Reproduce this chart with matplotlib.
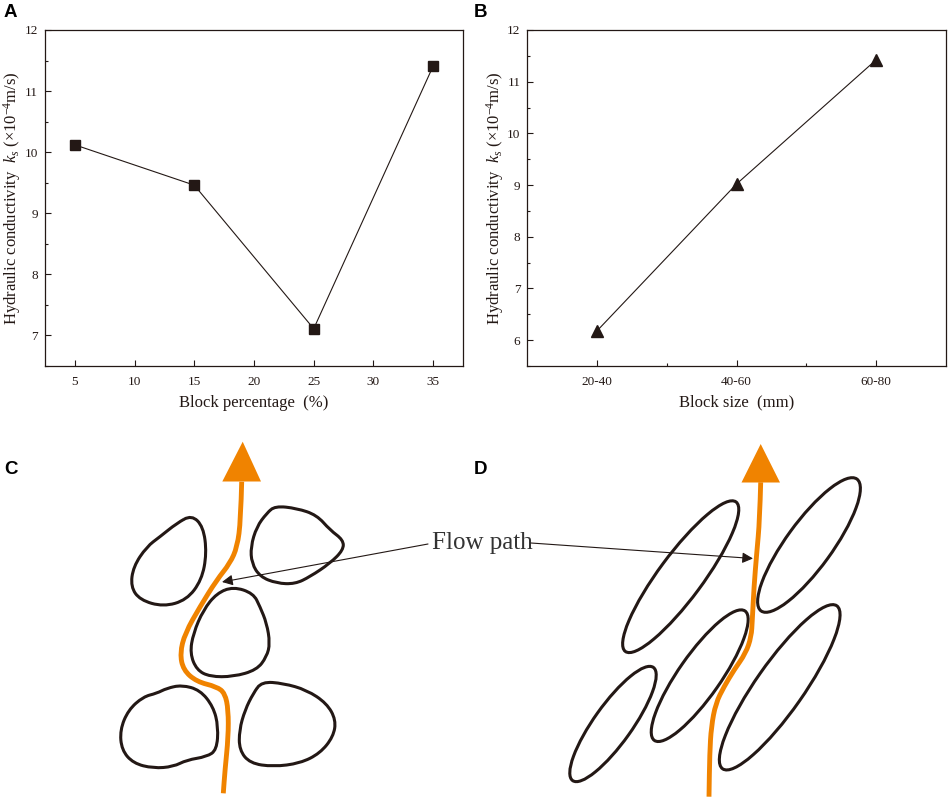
import numpy as np
import matplotlib
matplotlib.use("Agg")
import matplotlib.pyplot as plt
from matplotlib.path import Path
from matplotlib.patches import PathPatch, Ellipse, Polygon

# ---------------- data ----------------
pct_x = [5, 15, 25, 35]
pct_k = [10.12, 9.46, 7.11, 11.41]

size_labels = ["20-40", "40-60", "60-80"]
size_k = [6.18, 9.02, 11.42]

ylabel_txt = "Hydraulic conductivity  $k_s$ (\u00d710$^{-4}$m/s)"
xlabel_a = "Block percentage  (%)"
xlabel_b = "Block size  (mm)"
flow_text = "Flow path"

# ---------------- illustration geometry (pixel units) ----------------
blob1 = [(191.7, 515), (203.3, 526.7), (206.7, 553.3), (201.7, 580), (186.7, 600), (163.3, 606.7),
         (140, 600), (130.7, 586.7), (133.3, 566.7), (146.7, 546.7), (160, 536.7), (176.7, 523.3)]
blob2 = [(275, 506), (296.7, 508.3), (316.7, 515), (330, 530), (343.3, 540), (343.3, 550),
         (330, 563.3), (310, 576.7), (295, 584), (276.7, 583.3), (260, 576.7), (251.7, 563.3),
         (250.7, 546.7), (256.7, 526.7), (266.7, 513.3)]
blob3 = [(233.3, 586.7), (253.3, 593.3), (260, 606.7), (266.7, 623.3), (270, 643.3), (266.7, 656.7),
         (256.7, 670), (233.3, 676.7), (210, 676.7), (196.7, 670), (190, 653.3), (193.3, 633.3),
         (203.3, 610), (216.7, 593.3)]
blob4 = [(181.7, 685), (200, 690), (213.3, 706.7), (218.3, 726.7), (216.7, 750), (206.7, 756.7),
         (186.7, 760), (173.3, 766.7), (153.3, 768.3), (133.3, 763.3), (121.7, 750), (120, 730),
         (128.3, 710), (143.3, 696.7), (156.7, 693.3), (166.7, 688.3)]
blob5 = [(261.7, 681.7), (283.3, 683.3), (306.7, 690), (326.7, 703.3), (336, 720), (333.3, 736.7),
         (320, 753.3), (300, 763.3), (273.3, 766.7), (250, 763.3), (239.3, 750), (239.3, 730),
         (245, 710), (253.3, 693.3)]
blobs_c = [blob1, blob2, blob3, blob4, blob5]

flow_c = [(241.7, 481.7), (240.7, 520), (237.3, 546.7), (230, 563.3), (216.7, 580), (200, 606.7),
          (185, 633.3), (180, 653.3), (183.3, 670), (196.7, 681.7), (216.7, 686.7), (225, 693.3),
          (228.3, 710), (228.3, 736.7), (225, 770), (223.3, 793.3)]
head_c = [(242.7, 441.7), (222.3, 481.5), (261.0, 481.5)]

# ellipses: (cx, cy, major, minor, angle)
ellipses_d = [(680.7, 576.7, 186, 44, -53.5),
              (809.0, 545.0, 163, 46, -54.0),
              (699.7, 675.7, 158, 42, -55.0),
              (613.0, 724.0, 139, 38, -54.5),
              (779.7, 687.3, 199, 48, -55.0)]

flow_d = [(760.7, 482.3), (759.7, 520), (756.7, 553.3), (754, 586.7), (752.3, 620), (751.3, 636.7),
          (745.7, 653.3), (734, 670), (724, 686.7), (715.7, 703.3), (711.3, 726.7), (709.7, 753.3),
          (709, 796.7)]
head_d = [(760.7, 444), (741.5, 482.5), (780.0, 482.5)]

# ---------------- styles ----------------
plt.rcParams['font.family'] = ['Liberation Serif', 'DejaVu Serif']
plt.rcParams['mathtext.fontset'] = 'custom'
plt.rcParams['mathtext.rm'] = 'Liberation Serif'
plt.rcParams['mathtext.it'] = 'Liberation Serif:italic'
DARK = '#231815'
ORANGE = '#F08300'

W, H = 948, 798
fig = plt.figure(figsize=(W / 100, H / 100), dpi=100)


def style_axes(ax):
    for sp in ax.spines.values():
        sp.set_linewidth(0.9)
        sp.set_color(DARK)
    ax.tick_params(axis='both', which='both', direction='in', top=False, right=False,
                   labelsize=9.5, colors=DARK)
    ax.tick_params(axis='both', which='major', length=4.5, width=0.8)
    ax.tick_params(axis='both', which='minor', length=2.5, width=0.8)
    ax.tick_params(axis='x', pad=7)
    ax.tick_params(axis='y', pad=5)


# Panel A
axA = fig.add_axes([45 / W, 1 - 366 / H, 418 / W, 336 / H])
axA.plot(pct_x, pct_k, color=DARK, lw=0.8, marker='s', ms=7, mfc=DARK, mec=DARK)
axA.set_xlim(2.5, 37.5)
axA.set_ylim(6.5, 12)
axA.set_xticks([5, 10, 15, 20, 25, 30, 35])
axA.set_yticks([7, 8, 9, 10, 11, 12])
axA.set_yticks(np.arange(6.5, 12.01, 0.5), minor=True)
style_axes(axA)
axA.set_xlabel(xlabel_a, fontsize=12, color=DARK)
axA.set_ylabel(ylabel_txt, fontsize=12, color=DARK)
axA.xaxis.set_label_coords(0.5, -0.085)
axA.yaxis.set_label_coords(-0.052, 0.5)

# Panel B
axB = fig.add_axes([527.3 / W, 1 - 366 / H, 418.4 / W, 336 / H])
xb = np.arange(len(size_labels))
axB.plot(xb, size_k, color=DARK, lw=0.8, marker='^', ms=8.5, mfc=DARK, mec=DARK)
axB.set_xlim(-0.5, 2.5)
axB.set_ylim(5.5, 12)
axB.set_xticks(xb)
axB.set_xticklabels(size_labels)
axB.set_xticks([0.5, 1.5], minor=True)
axB.set_yticks([6, 7, 8, 9, 10, 11, 12])
axB.set_yticks(np.arange(5.5, 12.01, 0.5), minor=True)
style_axes(axB)
axB.set_xlabel(xlabel_b, fontsize=12, color=DARK)
axB.set_ylabel(ylabel_txt, fontsize=12, color=DARK)
axB.xaxis.set_label_coords(0.5, -0.085)
axB.yaxis.set_label_coords(-0.052, 0.5)

# Overlay for illustrations (1 unit = 1 pixel)
ov = fig.add_axes([0, 0, 1, 1])
ov.set_xlim(0, W)
ov.set_ylim(H, 0)
ov.axis('off')
ov.patch.set_visible(False)


def closed_smooth(points):
    P = np.asarray(points, float)
    n = len(P)
    M = (P + np.roll(P, -1, axis=0)) / 2.0
    verts = [M[-1]]
    codes = [Path.MOVETO]
    for i in range(n):
        verts += [P[i], M[i]]
        codes += [Path.CURVE3, Path.CURVE3]
    return Path(verts, codes)


def open_smooth(points):
    P = np.asarray(points, float)
    verts = [P[0]]
    codes = [Path.MOVETO]
    for i in range(1, len(P) - 1):
        m = (P[i] + P[i + 1]) / 2.0
        verts += [P[i], m]
        codes += [Path.CURVE3, Path.CURVE3]
    verts.append(P[-1])
    codes.append(Path.LINETO)
    return Path(verts, codes)


for b in blobs_c:
    ov.add_patch(PathPatch(closed_smooth(b), fill=False, lw=2.2, ec=DARK, joinstyle='round'))
for (cx, cy, a, b, ang) in ellipses_d:
    ov.add_patch(Ellipse((cx, cy), a, b, angle=ang, fill=False, lw=2.2, ec=DARK))

for fl, hd in [(flow_c, head_c), (flow_d, head_d)]:
    ov.add_patch(PathPatch(open_smooth(fl), fill=False, lw=3.5, ec=ORANGE, capstyle='butt'))
    ov.add_patch(Polygon(hd, closed=True, fc=ORANGE, ec='none'))

# Flow path annotation
ov.text(432, 543, flow_text, fontsize=18, ha='left', va='center', color='#333333')
ov.annotate('', xy=(222, 582), xytext=(428, 544),
            arrowprops=dict(arrowstyle='-|>', lw=0.8, color=DARK, mutation_scale=16,
                            shrinkA=0, shrinkB=0))
ov.annotate('', xy=(753, 558.5), xytext=(531, 543),
            arrowprops=dict(arrowstyle='-|>', lw=0.8, color=DARK, mutation_scale=16,
                            shrinkA=0, shrinkB=0))

# Panel letters
for lab, x, y in [('A', 4, 12.5), ('B', 474, 12.5), ('C', 4, 470), ('D', 474, 470)]:
    ov.text(x, y, lab, fontsize=13.5, fontweight='bold', family='Liberation Sans',
            ha='left', va='center', color='black')

fig.savefig('out.png', dpi=100)
